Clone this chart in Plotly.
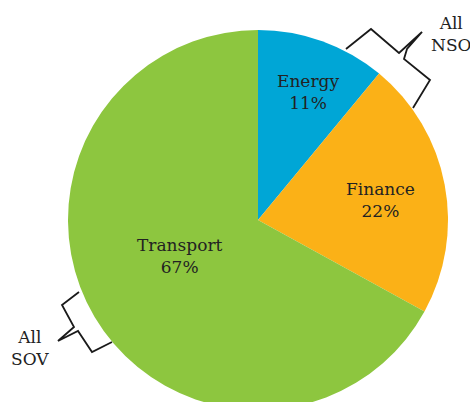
import plotly.graph_objects as go

labels = ["Energy", "Finance", "Transport"]
values = [11, 22, 67]
colors = ["#00A6D6", "#FBB117", "#8DC63F"]
group_labels = ["All<br>NSO", "All<br>SOV"]

W, H = 470, 440
FONT = "DejaVu Serif"
TXT = "#222222"
FS = 17

# label anchor positions (px, from top-left)
label_pos = [(307.5, 92), (380, 200), (179.5, 256)]
group_pos = [(451, 34), (30, 348)]

def px(x, y):
    return x / W, 1 - y / H

def path(points):
    s = ""
    for i, (x, y) in enumerate(points):
        a, b = px(x, y)
        s += ("M" if i == 0 else "L") + f"{a:.5f},{b:.5f} "
    return s.strip()

fig = go.Figure(go.Pie(
    labels=labels, values=values, sort=False, direction="clockwise", rotation=0,
    marker=dict(colors=colors, line=dict(width=0)),
    textinfo="none",
    hoverinfo="label+percent", showlegend=False,
    domain=dict(x=[68 / W, 448 / W], y=[1 - 410 / H, 1 - 30 / H]),
))

total = sum(values)
ann = []
for lab, v, (x, y) in zip(labels, values, label_pos):
    ax, ay = px(x, y)
    ann.append(dict(text=f"{lab}<br>{round(100 * v / total)}%", x=ax, y=ay,
                    xref="paper", yref="paper", showarrow=False,
                    xanchor="center", yanchor="middle",
                    font=dict(family=FONT, size=FS, color=TXT), align="center"))

for text, (x, y) in zip(group_labels, group_pos):
    ax, ay = px(x, y)
    ann.append(dict(text=text, x=ax, y=ay, xref="paper", yref="paper", showarrow=False,
                    xanchor="center", yanchor="middle",
                    font=dict(family=FONT, size=FS, color=TXT), align="center"))

nso = [(346, 49), (371, 29), (399, 53), (422, 32), (407, 49), (404, 59), (430, 80), (413, 108)]
sov = [(79, 292), (62, 305), (74, 327), (58, 341), (78, 331), (92, 352), (112, 342)]
shapes = [dict(type="path", xref="paper", yref="paper", path=path(p),
               line=dict(color="#1a1a1a", width=1.8)) for p in (nso, sov)]

fig.update_layout(width=W, height=H, margin=dict(l=0, r=0, t=0, b=0),
                  paper_bgcolor="white", shapes=shapes, annotations=ann)

fig.write_html("out.html", config={"displayModeBar": False},
               post_script="document.body.style.margin='0';document.body.style.overflow='hidden';")
